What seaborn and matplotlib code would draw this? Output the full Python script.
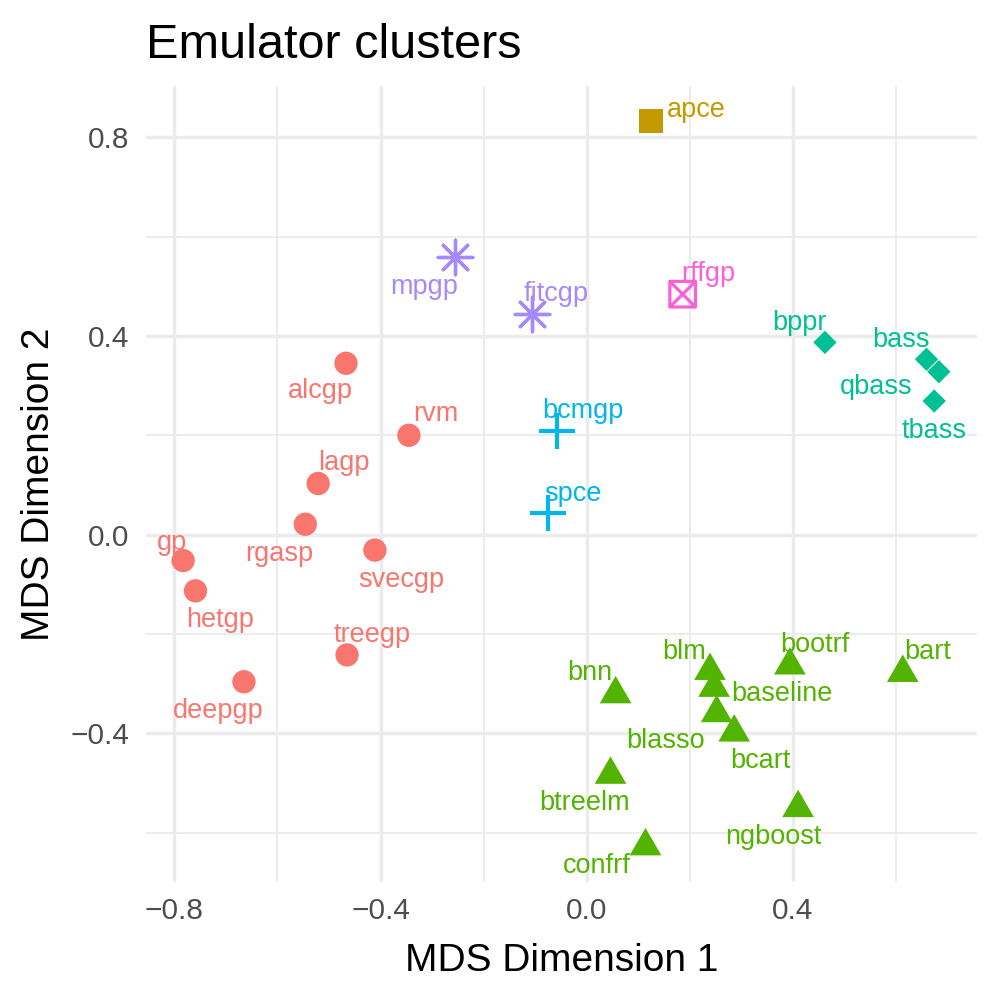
import numpy as np
import pandas as pd
import matplotlib
matplotlib.use("Agg")
import matplotlib.pyplot as plt
from matplotlib.path import Path
import seaborn as sns

# ---------------- data ----------------
names = ["alcgp", "rvm", "lagp", "rgasp", "gp", "hetgp", "svecgp", "treegp", "deepgp",
         "apce",
         "bnn", "blm", "baseline", "blasso", "bcart", "bootrf", "bart", "btreelm", "ngboost", "confrf",
         "bppr", "bass", "qbass", "tbass",
         "bcmgp", "spce",
         "mpgp", "fitcgp",
         "rffgp"]
dim1 = [-0.467, -0.345, -0.521, -0.546, -0.783, -0.759, -0.411, -0.465, -0.665,
        0.125,
        0.056, 0.239, 0.247, 0.252, 0.286, 0.394, 0.613, 0.046, 0.410, 0.114,
        0.462, 0.659, 0.683, 0.674,
        -0.057, -0.076,
        -0.256, -0.107,
        0.186]
dim2 = [0.345, 0.200, 0.103, 0.021, -0.052, -0.113, -0.031, -0.242, -0.296,
        0.832,
        -0.321, -0.274, -0.308, -0.359, -0.398, -0.263, -0.278, -0.483, -0.550, -0.627,
        0.387, 0.353, 0.328, 0.269,
        0.208, 0.043,
        0.558, 0.444,
        0.484]
cluster = [1] * 9 + [2] + [3] * 10 + [4] * 4 + [5] * 2 + [6] * 2 + [7]

x_ticks = [-0.8, -0.4, 0.0, 0.4]
x_tick_labels = ["\u22120.8", "\u22120.4", "0.0", "0.4"]
y_ticks = [-0.4, 0.0, 0.4, 0.8]
y_tick_labels = ["\u22120.4", "0.0", "0.4", "0.8"]
minor_ticks = [-0.6, -0.2, 0.2, 0.6]

title = "Emulator clusters"
x_title = "MDS Dimension 1"
y_title = "MDS Dimension 2"

# ---------------- styling / layout ----------------
# label offsets in pixels (dx right, dy down), ggrepel-like placement
label_dx = [-26, 27, 26, -26, -11, 25, 26, 25, -26,
            45,
            -26, -26, 68, -51, 26, 25, 25, -26, -25, -49,
            -25, -26, -63, 0,
            26, 25,
            -31, 25,
            26]
label_dy = [25, -24, -24, 27, -21, 26, 27, -23, 26,
            -14,
            -24, -22, 3, 25, 26, -23, -24, 25, 26, 17,
            -22, -22, 12, 27,
            -23, -22,
            27, -23,
            -23]
label_shift_down = 3

palette = {1: "#F8766D", 2: "#C49A00", 3: "#53B400", 4: "#00C094",
           5: "#00B6EB", 6: "#A58AFF", 7: "#FB61D7"}

tri_path = Path([(0, 1), (-0.866, -0.5), (0.866, -0.5), (0, 1)],
                [Path.MOVETO, Path.LINETO, Path.LINETO, Path.CLOSEPOLY])
sqx_path = Path([(-1, -1), (1, -1), (1, 1), (-1, 1), (-1, -1),
                 (-1, -1), (1, 1), (-1, 1), (1, -1)],
                [Path.MOVETO, Path.LINETO, Path.LINETO, Path.LINETO, Path.CLOSEPOLY,
                 Path.MOVETO, Path.LINETO, Path.MOVETO, Path.LINETO])

marker_kws = {
    1: dict(marker="o", s=282, edgecolor="none", linewidth=0),
    2: dict(marker="s", s=306, edgecolor="none", linewidth=0),
    3: dict(marker=tri_path, s=694, edgecolor="none", linewidth=0),
    4: dict(marker="D", s=141, edgecolor="none", linewidth=0),
    5: dict(marker="+", s=690, linewidth=3.0),
    6: dict(marker=(8, 2, 0), s=620, linewidth=2.4),
    7: dict(marker=sqx_path, s=340, facecolor="none", linewidth=2.3),
}

df = pd.DataFrame({"name": names, "dim1": dim1, "dim2": dim2, "cluster": cluster,
                   "dx": label_dx, "dy": label_dy})

sns.set_style("white")
plt.rcParams["font.family"] = ["Liberation Sans", "DejaVu Sans"]
plt.rcParams["axes.unicode_minus"] = True

W, H = 997, 997
fig = plt.figure(figsize=(W / 100, H / 100), dpi=100)
left, right, top, bottom = 146, 977, 86, 882
ax = fig.add_axes([left / W, 1 - bottom / H, (right - left) / W, (bottom - top) / H])

for k in sorted(palette):
    sub = df[df["cluster"] == k]
    kws = dict(marker_kws[k])
    if "edgecolor" not in kws or kws.get("facecolor") == "none":
        kws["edgecolor"] = palette[k]
    sns.scatterplot(data=sub, x="dim1", y="dim2", color=palette[k], ax=ax,
                    legend=False, zorder=3, **kws)

for _, r in df.iterrows():
    ax.annotate(r["name"], (r["dim1"], r["dim2"]),
                xytext=(r["dx"] * 0.72, -(r["dy"] + label_shift_down) * 0.72),
                textcoords="offset points",
                ha="center", va="center", fontsize=19.5, color=palette[r["cluster"]],
                zorder=4)

ax.set_xlim(-0.855, 0.757)
ax.set_ylim(-0.699, 0.903)
ax.set_xticks(x_ticks)
ax.set_xticklabels(x_tick_labels)
ax.set_yticks(y_ticks)
ax.set_yticklabels(y_tick_labels)
ax.set_xticks(minor_ticks, minor=True)
ax.set_yticks(minor_ticks, minor=True)
ax.grid(True, which="major", color="#EBEBEB", linewidth=2.5, zorder=0)
ax.grid(True, which="minor", color="#EBEBEB", linewidth=1.3, zorder=0)
ax.set_axisbelow(True)
for sp in ax.spines.values():
    sp.set_visible(False)
ax.tick_params(axis="both", which="both", length=0, labelsize=21.5, labelcolor="#4D4D4D")
ax.tick_params(axis="x", pad=11)
ax.tick_params(axis="y", pad=12)
ax.set_xlabel(x_title, fontsize=28, color="black", labelpad=13)
ax.set_ylabel(y_title, fontsize=28, color="black", labelpad=10)
ax.set_title(title, loc="left", fontsize=35, color="black", pad=20)

fig.savefig("out.png", dpi=100, facecolor="white")
